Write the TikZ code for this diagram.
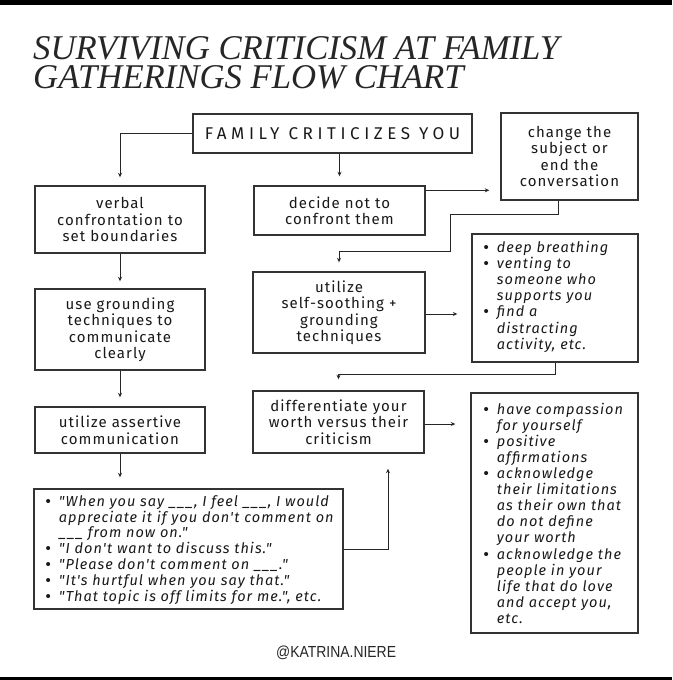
\documentclass[tikz,border=0pt]{standalone}
\usepackage{fontspec}
\usepackage{graphicx}
\usetikzlibrary{arrows.meta,calc}
\newfontfamily\bodyfont[LetterSpace=7]{Fira Sans}
\newfontfamily\capsfont[LetterSpace=27]{Fira Sans}
\newfontfamily\tagfont{Liberation Sans}
\newfontfamily\titlefont{Liberation Serif}
\newcommand\bul{{\tagfont\upshape\fontsize{15}{15}\selectfont\textbullet}}
\begin{document}
\begin{tikzpicture}[x=1pt,y=-1pt,
  box/.style={draw=black!80,line width=1.4pt,inner sep=0pt,align=center,text=black!90,
    font=\bodyfont\fontsize{15}{16.5}\selectfont},
  frame/.style={draw=black!80,line width=1.4pt,inner sep=0pt},
  arr/.style={draw=black!85,line width=1pt,-{Stealth[length=4.5pt,width=4pt]}},
  lst/.style={inner sep=0pt,anchor=base west,align=left,text=black!90},
  titletext/.style={inner sep=0pt,anchor=base west,align=left,text=black!85,
    font=\titlefont\fontsize{34.7}{29}\selectfont\itshape}]
\useasboundingbox (0,0) rectangle (672,680);
\fill[white] (0,0) rectangle (672,680);
\fill[black] (0,0) rectangle (672,5);
\fill[black] (0,677) rectangle (672,680);

% title (base anchor = baseline of the second line)
\node[titletext] (title) at (33,88) {SURVIVING CRITICISM AT FAMILY\\GATHERINGS FLOW CHART};

% boxes
\node[box,minimum width=279pt,minimum height=39pt,font=\capsfont\fontsize{17}{18}\selectfont] (fam) at (332.5,133.5) {FAMILY CRITICIZES YOU};
\node[box,minimum width=137pt,minimum height=87pt] (change) at (569.5,156.5) {change the\\subject or\\end the\\conversation};
\node[box,minimum width=171pt,minimum height=49pt] (decide) at (339.5,210.5) {decide not to\\confront them};
\node[box,minimum width=170pt,minimum height=67pt] (verbal) at (120,219.5) {verbal\\confrontation to\\set boundaries};
\node[box,minimum width=170pt,minimum height=81pt] (ground) at (120,329.5) {use grounding\\techniques to\\communicate\\clearly};
\node[box,minimum width=170pt,minimum height=46pt] (assert) at (120,430) {utilize assertive\\communication};
\node[box,minimum width=172pt,minimum height=81pt] (soothe) at (339,312.5) {utilize\\self-soothing +\\grounding\\techniques};
\node[box,minimum width=171pt,minimum height=62pt] (diff) at (338.5,422) {differentiate your\\worth versus their\\criticism};
\node[frame,minimum width=166pt,minimum height=128pt] (bul1) at (555,298) {};
\node[frame,minimum width=167pt,minimum height=240pt] (bul2) at (554.5,513) {};
\node[frame,minimum width=309pt,minimum height=120pt] (quotes) at (188.5,549) {};

% list texts
\node[lst,font=\bodyfont\itshape\fontsize{14.5}{16.2}\selectfont] (l1) at (483.5,252) {%
\begin{tabular}[t]{@{}c@{\hspace{8pt}}l@{}}
\bul & deep breathing\\
\bul & venting to\\
 & someone who\\
 & supports you\\
\bul & find a\\
 & distracting\\
 & activity, etc.
\end{tabular}};
\node[lst,font=\bodyfont\itshape\fontsize{14.5}{16.1}\selectfont] (l2) at (483.5,414) {%
\begin{tabular}[t]{@{}c@{\hspace{8pt}}l@{}}
\bul & have compassion\\
 & for yourself\\
\bul & positive\\
 & affirmations\\
\bul & acknowledge\\
 & their limitations\\
 & as their own that\\
 & do not define\\
 & your worth\\
\bul & acknowledge the\\
 & people in your\\
 & life that do love\\
 & and accept you,\\
 & etc.
\end{tabular}};
\node[lst,font=\bodyfont\itshape\fontsize{14.5}{15.67}\selectfont] (l3) at (45.5,506) {%
\begin{tabular}[t]{@{}c@{\hspace{8pt}}l@{}}
\bul & "When you say \_\_\_, I feel \_\_\_, I would\\
 & appreciate it if you don't comment on\\
 & \_\_\_ from now on."\\
\bul & "I don't want to discuss this."\\
\bul & "Please don't comment on \_\_\_."\\
\bul & "It's hurtful when you say that."\\
\bul & "That topic is off limits for me.", etc.
\end{tabular}};

\node[inner sep=0pt,anchor=base west,text=black!85,font=\tagfont\fontsize{16}{18}\selectfont] (tag) at (276,657) {\scalebox{0.87}[1]{@KATRINA.NIERE}};

% connector points
\coordinate (d3) at ($(decide.north east)+(0,5)$);
\coordinate (s3) at ($(soothe.east)+(0,1.5)$);
\coordinate (f3) at ($(diff.east)+(0,2)$);
\coordinate (c3) at ($(change.south)+(-11.5,0)$);
\coordinate (q3) at ($(diff.south)+(49.5,0)$);

% connectors
\draw[arr,shorten >=8pt] (fam.west) -| (verbal.north);
\draw[arr,shorten >=9pt] (fam.south -| decide.north) -- (decide.north);
\draw[arr,shorten >=11pt] (d3) -- (d3 -| change.west);
\draw[arr,shorten >=9pt] (c3) -- ++(0,14) -| ($(soothe.north)+(111,-20)$) -| (soothe.north);
\draw[arr,shorten >=14pt] (s3) -- (s3 -| bul1.west);
\draw[arr,shorten >=11pt] (bul1.south) -- ++(0,12) -| (diff.north);
\draw[arr,shorten >=15pt] (f3) -- (f3 -| bul2.west);
\draw[arr,shorten >=7pt] (verbal.south) -- (ground.north);
\draw[arr,shorten >=9pt] (ground.south) -- (assert.north);
\draw[arr,shorten >=11pt] (assert.south) -- (assert.south |- quotes.north);
\draw[arr,shorten >=15pt] (quotes.east) -| (q3);
\end{tikzpicture}
\end{document}
